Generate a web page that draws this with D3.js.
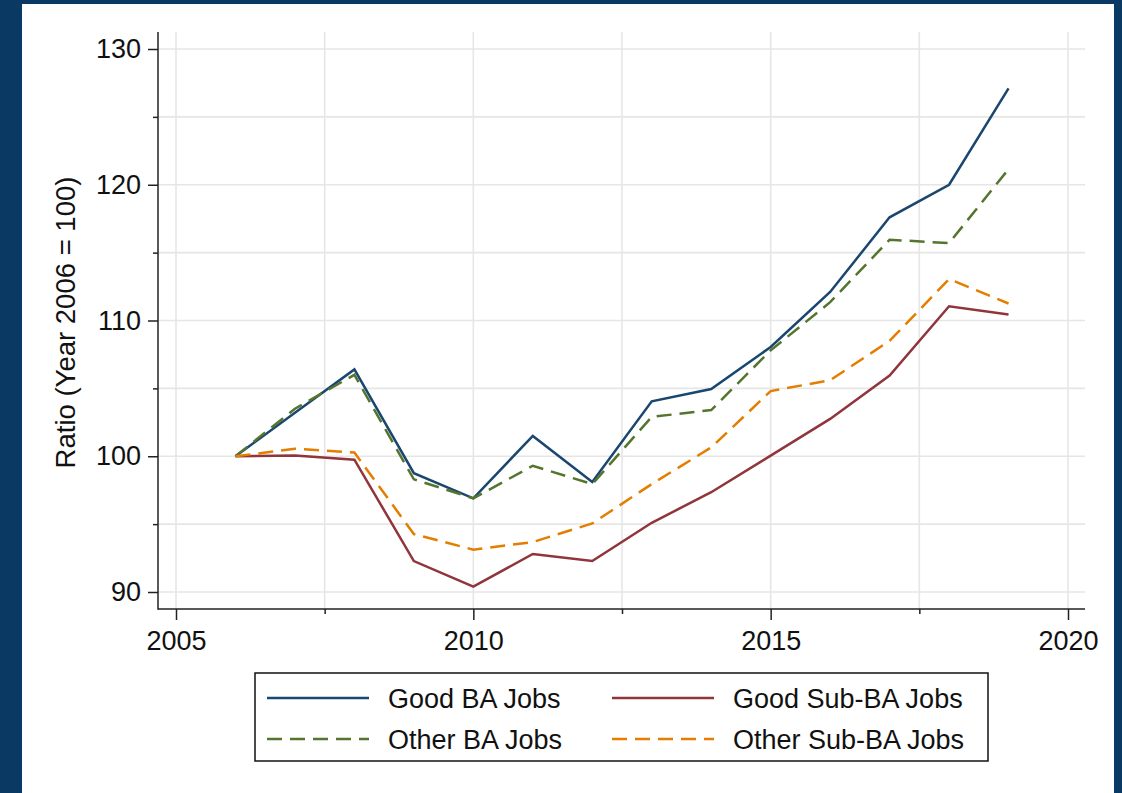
<!DOCTYPE html>
<html>
<head>
<meta charset="utf-8">
<script src="https://cdn.jsdelivr.net/npm/d3@7"></script>
<style>
  html, body { margin: 0; padding: 0; background: #0a3964; }
  svg { display: block; }
  text { font-family: "Liberation Sans", Arial, sans-serif; fill: #111; }
</style>
</head>
<body>
<svg id="chart" width="1122" height="793"></svg>
<script>
// Employment ratio by job type, indexed to 2006 = 100
const years = [2006, 2007, 2008, 2009, 2010, 2011, 2012, 2013, 2014, 2015, 2016, 2017, 2018, 2019];
const goodBA     = [100, 103.2, 106.4, 98.75, 96.9, 101.5, 98.1, 104.05, 104.95, 108.05, 112.1, 117.6, 120.0, 127.1];
const otherBA    = [100, 103.5, 106.0, 98.3, 96.9, 99.3, 97.95, 102.9, 103.4, 107.8, 111.35, 115.95, 115.7, 121.15];
const goodSubBA  = [100, 100.05, 99.75, 92.28, 90.4, 92.8, 92.28, 95.1, 97.35, 100.05, 102.75, 105.95, 111.05, 110.45];
const otherSubBA = [100, 100.55, 100.28, 94.27, 93.12, 93.68, 95.05, 97.95, 100.65, 104.8, 105.6, 108.5, 113.05, 111.25];

const seriesNames = ["Good BA Jobs", "Good Sub-BA Jobs", "Other BA Jobs", "Other Sub-BA Jobs"];
const xTicks = [2005, 2010, 2015, 2020];
const xMinorTicks = [2007.5, 2012.5, 2017.5];
const yTicks = [90, 100, 110, 120, 130];
const yMinorTicks = [95, 105, 115, 125];
const yTitle = "Ratio (Year 2006 = 100)";

const series = [
  { name: seriesNames[0], values: goodBA,     color: "#1a476f", dash: null },
  { name: seriesNames[1], values: goodSubBA,  color: "#90353b", dash: null },
  { name: seriesNames[2], values: otherBA,    color: "#55752f", dash: "15,8" },
  { name: seriesNames[3], values: otherSubBA, color: "#e37e00", dash: "15,8" }
];

const svg = d3.select("#chart");

// white page inside the navy frame
svg.append("rect").attr("x", 22).attr("y", 4).attr("width", 1092).attr("height", 789).attr("fill", "#fff");

// plot region
const plot = { left: 158, right: 1085, top: 32, bottom: 609 };
const x = d3.scaleLinear().domain([2005, 2020]).range([176, 1068]);
const y = d3.scaleLinear().domain([90, 130]).range([592, 49]);

const grid = svg.append("g");
const vLines = xTicks.concat(xMinorTicks);
grid.selectAll("line.v").data(vLines).join("line")
  .attr("x1", d => x(d)).attr("x2", d => x(d))
  .attr("y1", plot.top).attr("y2", plot.bottom)
  .attr("stroke", "#e6e6e6").attr("stroke-width", 1.6);
const hLines = yTicks.concat(yMinorTicks);
grid.selectAll("line.h").data(hLines).join("line")
  .attr("x1", plot.left).attr("x2", plot.right)
  .attr("y1", d => y(d)).attr("y2", d => y(d))
  .attr("stroke", "#e6e6e6").attr("stroke-width", 1.6);

// axes
const fontSize = 27;
const xAxis = svg.append("g").attr("transform", `translate(0,${plot.bottom})`)
  .call(d3.axisBottom(x).tickValues(xTicks).tickFormat(d3.format("d")).tickSize(11).tickPadding(11));
const xMinor = svg.append("g").attr("transform", `translate(0,${plot.bottom})`)
  .call(d3.axisBottom(x).tickValues(xMinorTicks).tickFormat("").tickSize(5));
const yAxis = svg.append("g").attr("transform", `translate(${plot.left},0)`)
  .call(d3.axisLeft(y).tickValues(yTicks).tickFormat(d3.format("d")).tickSize(10).tickPadding(7));
const yMinor = svg.append("g").attr("transform", `translate(${plot.left},0)`)
  .call(d3.axisLeft(y).tickValues(yMinorTicks).tickFormat("").tickSize(5));

[xAxis, xMinor, yAxis, yMinor].forEach(g => {
  g.attr("font-size", fontSize).attr("font-family", "Liberation Sans, Arial, sans-serif");
  g.select(".domain").remove();
  g.selectAll(".tick line").attr("stroke", "#222").attr("stroke-width", 1.5);
  g.selectAll(".tick text").attr("fill", "#111");
});

svg.append("line").attr("x1", plot.left).attr("x2", plot.left).attr("y1", plot.top).attr("y2", plot.bottom + 0.75)
  .attr("stroke", "#222").attr("stroke-width", 1.5);
svg.append("line").attr("x1", plot.left).attr("x2", plot.right).attr("y1", plot.bottom).attr("y2", plot.bottom)
  .attr("stroke", "#222").attr("stroke-width", 1.5);

// y axis title
svg.append("text")
  .attr("transform", `translate(75,${(y(90) + y(130)) / 2 + 2}) rotate(-90)`)
  .attr("text-anchor", "middle").attr("font-size", 27.5)
  .text(yTitle);

// series lines
const line = d3.line().x((d, i) => x(years[i])).y(d => y(d));
svg.append("g").selectAll("path").data(series).join("path")
  .attr("d", s => line(s.values))
  .attr("fill", "none")
  .attr("stroke", s => s.color)
  .attr("stroke-width", 2.5)
  .attr("stroke-linejoin", "miter")
  .attr("stroke-dasharray", s => s.dash);

// legend
const legend = svg.append("g");
legend.append("rect").attr("x", 255).attr("y", 673).attr("width", 733).attr("height", 88)
  .attr("fill", "#fff").attr("stroke", "#111").attr("stroke-width", 1.5);
const cols = [267, 612];
const rows = [698, 739];
series.forEach((s, i) => {
  const cx = cols[i % 2], cy = rows[Math.floor(i / 2)];
  legend.append("line").attr("x1", cx).attr("x2", cx + 102).attr("y1", cy).attr("y2", cy)
    .attr("stroke", s.color).attr("stroke-width", 2.5).attr("stroke-dasharray", s.dash);
  legend.append("text").attr("x", cx + 121).attr("y", cy + 10).attr("font-size", 27).text(s.name);
});
</script>
</body>
</html>
